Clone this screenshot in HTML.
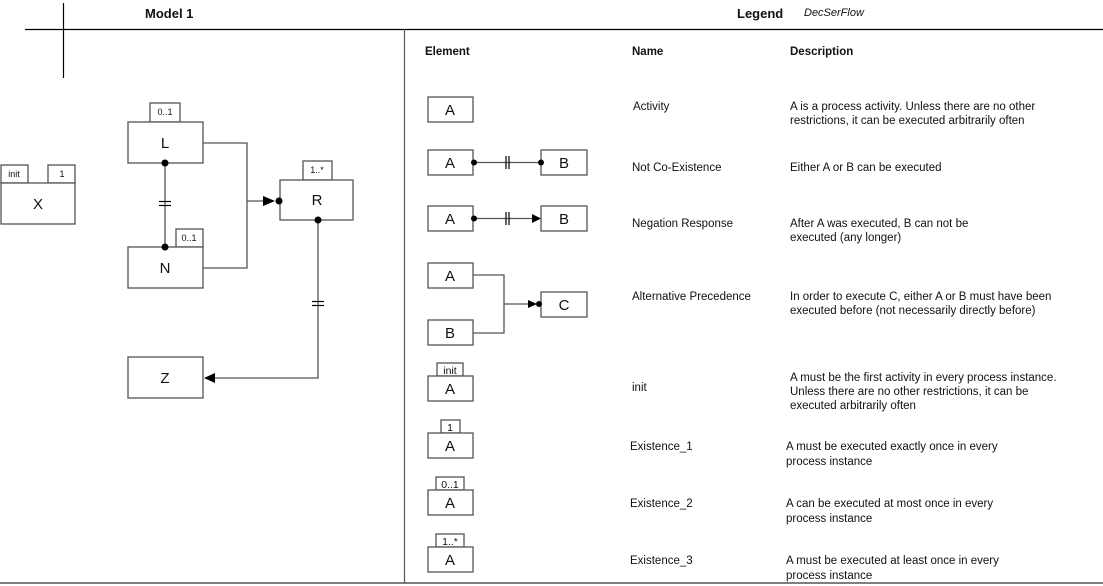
<!DOCTYPE html>
<html><head><style>
html,body{margin:0;padding:0;background:#fff;}
svg{display:block;font-family:"Liberation Sans",Arial,sans-serif;}
.b{fill:#fff;stroke:#555;stroke-width:1.3}
.l{stroke:#555;stroke-width:1.3;fill:none}
.k{stroke:#000;stroke-width:1.2;fill:none}
.t{font-size:11.5px;fill:#111}
.big{font-size:15px;fill:#111;text-anchor:middle}
.s{font-size:9px;fill:#111;text-anchor:middle}
.s2{font-size:10.5px;fill:#111;text-anchor:middle}
.h{font-size:11.5px;font-weight:bold;fill:#111}
</style></head><body>
<svg width="1103" height="586" viewBox="0 0 1103 586">
<!-- frame -->
<line x1="25" y1="29.5" x2="1103" y2="29.5" stroke="#000" stroke-width="1.2"/>
<line x1="63.5" y1="3" x2="63.5" y2="78" stroke="#000" stroke-width="1.2"/>
<line x1="404.5" y1="29" x2="404.5" y2="583" stroke="#555" stroke-width="1.2"/>
<line x1="0" y1="583" x2="1103" y2="583" stroke="#555" stroke-width="1.5"/>
<text x="145" y="18" style="font-size:13px;font-weight:bold;fill:#111">Model 1</text>
<text x="737" y="18" style="font-size:13px;font-weight:bold;fill:#111">Legend</text>
<text x="804" y="16" style="font-size:11px;font-style:italic;fill:#111">DecSerFlow</text>

<!-- Model -->
<rect class="b" x="1" y="165" width="27" height="18"/><text class="s" x="14" y="177">init</text>
<rect class="b" x="48" y="165" width="27" height="18"/><text class="s" x="62" y="177">1</text>
<rect class="b" x="1" y="183" width="74" height="41"/><text class="big" x="38" y="209">X</text>

<rect class="b" x="150" y="103" width="30" height="19"/><text class="s" x="165" y="115">0..1</text>
<rect class="b" x="128" y="122" width="75" height="41"/><text class="big" x="165" y="148">L</text>
<rect class="b" x="176" y="229" width="27" height="18"/><text class="s" x="189" y="241">0..1</text>
<rect class="b" x="128" y="247" width="75" height="41"/><text class="big" x="165" y="273">N</text>
<rect class="b" x="303" y="161" width="29" height="19"/><text class="s" x="317" y="173">1..*</text>
<rect class="b" x="280" y="180" width="73" height="40"/><text class="big" x="317" y="205">R</text>
<rect class="b" x="128" y="357" width="75" height="41"/><text class="big" x="165" y="383">Z</text>

<line class="l" x1="165" y1="163" x2="165" y2="247"/>
<line class="k" x1="159" y1="201.5" x2="171" y2="201.5"/><line class="k" x1="159" y1="205.5" x2="171" y2="205.5"/>
<circle cx="165" cy="163" r="3.5"/><circle cx="165" cy="247" r="3.5"/>
<polyline class="l" points="203,143 247,143 247,268 203,268"/>
<line class="l" x1="247" y1="201" x2="266" y2="201"/>
<polygon points="263,196 275,201 263,206"/><circle cx="279" cy="201" r="3.5"/>
<polyline class="l" points="318,220 318,378 212,378"/>
<line class="k" x1="312" y1="301.5" x2="324" y2="301.5"/><line class="k" x1="312" y1="305.5" x2="324" y2="305.5"/>
<polygon points="204,378 215,373 215,383"/><circle cx="318" cy="220" r="3.5"/>

<!-- Legend headers -->
<text class="h" x="425" y="55">Element</text>
<text class="h" x="632" y="55">Name</text>
<text class="h" x="790" y="55">Description</text>

<!-- Row1 -->
<rect class="b" x="428" y="97" width="45" height="25"/><text class="big" x="450" y="115">A</text>
<text class="t" x="633" y="110">Activity</text>
<text class="t" x="790" y="110">A is a process activity. Unless there are no other</text>
<text class="t" x="790" y="124">restrictions, it can be executed arbitrarily often</text>

<!-- Row2 -->
<rect class="b" x="428" y="150" width="45" height="25"/><text class="big" x="450" y="168">A</text>
<rect class="b" x="541" y="150" width="46" height="25"/><text class="big" x="564" y="168">B</text>
<line class="l" x1="473" y1="162.5" x2="541" y2="162.5"/>
<line class="k" x1="506" y1="156" x2="506" y2="169"/><line class="k" x1="509" y1="156" x2="509" y2="169"/>
<circle cx="474" cy="162.5" r="3"/><circle cx="541" cy="162.5" r="3"/>
<text class="t" x="632" y="171">Not Co-Existence</text>
<text class="t" x="790" y="171">Either A or B can be executed</text>

<!-- Row3 -->
<rect class="b" x="428" y="206" width="45" height="25"/><text class="big" x="450" y="224">A</text>
<rect class="b" x="541" y="206" width="46" height="25"/><text class="big" x="564" y="224">B</text>
<line class="l" x1="473" y1="218.5" x2="533" y2="218.5"/>
<line class="k" x1="506" y1="212" x2="506" y2="225"/><line class="k" x1="509" y1="212" x2="509" y2="225"/>
<circle cx="474" cy="218.5" r="3"/><polygon points="532,214 541,218.5 532,223"/>
<text class="t" x="632" y="227">Negation Response</text>
<text class="t" x="790" y="227">After A was executed, B can not be</text>
<text class="t" x="790" y="241">executed (any longer)</text>

<!-- Row4 -->
<rect class="b" x="428" y="263" width="45" height="25"/><text class="big" x="450" y="281">A</text>
<rect class="b" x="428" y="320" width="45" height="25"/><text class="big" x="450" y="338">B</text>
<rect class="b" x="541" y="292" width="46" height="25"/><text class="big" x="564" y="310">C</text>
<polyline class="l" points="473,275 504,275 504,333 473,333"/>
<line class="l" x1="504" y1="304" x2="530" y2="304"/>
<polygon points="528,300 537,304 528,308"/><circle cx="539" cy="304" r="3"/>
<text class="t" x="632" y="300">Alternative Precedence</text>
<text class="t" x="790" y="300">In order to execute C, either A or B  must have been</text>
<text class="t" x="790" y="314">executed before (not necessarily directly before)</text>

<!-- Row5 -->
<rect class="b" x="437" y="363" width="26" height="13"/><text class="s2" x="450" y="374">init</text>
<rect class="b" x="428" y="376" width="45" height="25"/><text class="big" x="450" y="394">A</text>
<text class="t" x="632" y="391">init</text>
<text class="t" x="790" y="381">A must be the first activity in every process instance.</text>
<text class="t" x="790" y="395">Unless there are no other restrictions, it can be</text>
<text class="t" x="790" y="409">executed arbitrarily often</text>

<!-- Row6 -->
<rect class="b" x="441" y="420" width="19" height="13"/><text class="s2" x="450" y="431">1</text>
<rect class="b" x="428" y="433" width="45" height="25"/><text class="big" x="450" y="451">A</text>
<text class="t" x="630" y="450">Existence_1</text>
<text class="t" x="786" y="450">A must be executed exactly once in every</text>
<text class="t" x="786" y="465">process instance</text>

<!-- Row7 -->
<rect class="b" x="436" y="477" width="28" height="13"/><text class="s2" x="450" y="488">0..1</text>
<rect class="b" x="428" y="490" width="45" height="25"/><text class="big" x="450" y="508">A</text>
<text class="t" x="630" y="507">Existence_2</text>
<text class="t" x="786" y="507">A can be executed at most once in every</text>
<text class="t" x="786" y="522">process instance</text>

<!-- Row8 -->
<rect class="b" x="436" y="534" width="28" height="13"/><text class="s2" x="450" y="545">1..*</text>
<rect class="b" x="428" y="547" width="45" height="25"/><text class="big" x="450" y="565">A</text>
<text class="t" x="630" y="564">Existence_3</text>
<text class="t" x="786" y="564">A must be executed at least once in every</text>
<text class="t" x="786" y="579">process instance</text>
</svg>
</body></html>
